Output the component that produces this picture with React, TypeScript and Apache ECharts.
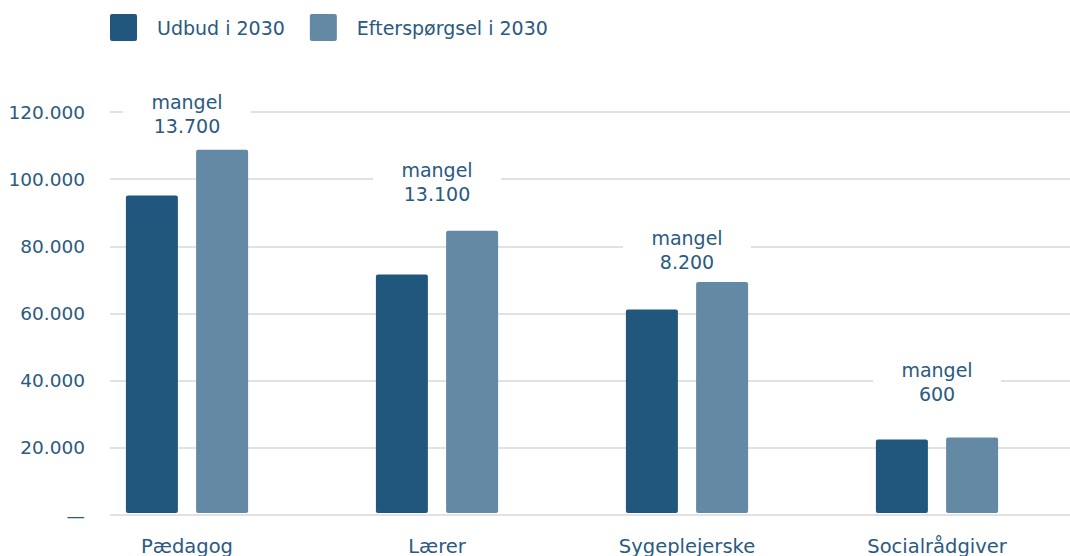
import React, { useEffect, useRef } from "react";
import * as echarts from "echarts";

const categories = ["Pædagog", "Lærer", "Sygeplejerske", "Socialrådgiver"];
const udbud = [95000, 71400, 60900, 22000];
const efterspoergsel = [108700, 84500, 69100, 22600];
const mangel = [13700, 13100, 8200, 600];
// vertical position (axis units) of the centre of each "mangel" annotation
const mangelLabelY = [119300, 99000, 78600, 39100];
const seriesNames = ["Udbud i 2030", "Efterspørgsel i 2030"];

const DARK = "#22577D";
const LIGHT = "#6489A5";
const TEXT = "#2A5A80";
const FONT = "DejaVu Sans";

function fmt(v: number): string {
  return String(Math.round(v)).replace(/\B(?=(\d{3})+(?!\d))/g, ".");
}

export default function App() {
  const ref = useRef<HTMLDivElement>(null);
  useEffect(() => {
    if (!ref.current) return;
    const chart = echarts.init(ref.current, null, { renderer: "svg" });
    const yBase = { type: "value", min: 0, max: 120000, interval: 20000 };
    chart.setOption({
      animation: false,
      backgroundColor: "#ffffff",
      textStyle: { fontFamily: FONT },
      legend: {
        left: 110,
        top: 14,
        padding: 0,
        itemWidth: 27,
        itemHeight: 27,
        itemGap: 25,
        icon: "path://M2,0 L25,0 Q27,0 27,2 L27,25 Q27,27 25,27 L2,27 Q0,27 0,25 L0,2 Q0,0 2,0 Z",
        textStyle: { color: TEXT, fontSize: 19, fontFamily: FONT, padding: [0, 0, 0, 15] },
        data: seriesNames,
      },
      grid: [
        { left: 110, right: 0, top: 112, bottom: 41 },
        { left: 62, right: 8, top: 112, bottom: 41 },
      ],
      xAxis: [
        { type: "category", gridIndex: 0, data: categories, show: false },
        {
          type: "category",
          gridIndex: 1,
          data: categories,
          axisLine: { show: false },
          axisTick: { show: false },
          axisLabel: { color: TEXT, fontSize: 19.5, fontFamily: FONT, margin: 23 },
        },
      ],
      yAxis: [
        {
          ...yBase,
          gridIndex: 0,
          axisLine: { show: false },
          axisTick: { show: false },
          axisLabel: {
            color: TEXT,
            fontSize: 18.5,
            fontFamily: FONT,
            margin: 25,
            formatter: (v: number) => (v === 0 ? "—" : fmt(v)),
          },
          splitLine: { lineStyle: { color: "#d9d9d9", width: 1.5 } },
        },
        { ...yBase, gridIndex: 1, show: false, splitLine: { show: false } },
      ],
      series: [
        {
          name: seriesNames[0],
          type: "bar",
          xAxisIndex: 1,
          yAxisIndex: 1,
          data: udbud,
          barWidth: 52,
          barGap: "35%",
          itemStyle: { color: DARK, borderRadius: 2 },
        },
        {
          name: seriesNames[1],
          type: "bar",
          xAxisIndex: 1,
          yAxisIndex: 1,
          data: efterspoergsel,
          barWidth: 52,
          barGap: "35%",
          itemStyle: { color: LIGHT, borderRadius: 2 },
        },
        {
          type: "scatter",
          xAxisIndex: 1,
          yAxisIndex: 1,
          symbolSize: 1,
          itemStyle: { color: "rgba(0,0,0,0)", opacity: 1 },
          silent: true,
          z: 5,
          data: categories.map((c, i) => [i, mangelLabelY[i], mangel[i]]),
          label: {
            show: true,
            position: "inside",
            formatter: (p: any) => "mangel\n" + fmt(p.value[2]),
            color: TEXT,
            fontSize: 19,
            fontFamily: FONT,
            lineHeight: 24,
            width: 128,
            align: "center",
            backgroundColor: "#ffffff",
            padding: [2, 0, 2, 0],
          },
        },
      ],
    });
    return () => chart.dispose();
  }, []);
  return (
    <div
      ref={ref}
      style={{ position: "fixed", left: 0, top: 0, width: 1070, height: 556 }}
    />
  );
}
